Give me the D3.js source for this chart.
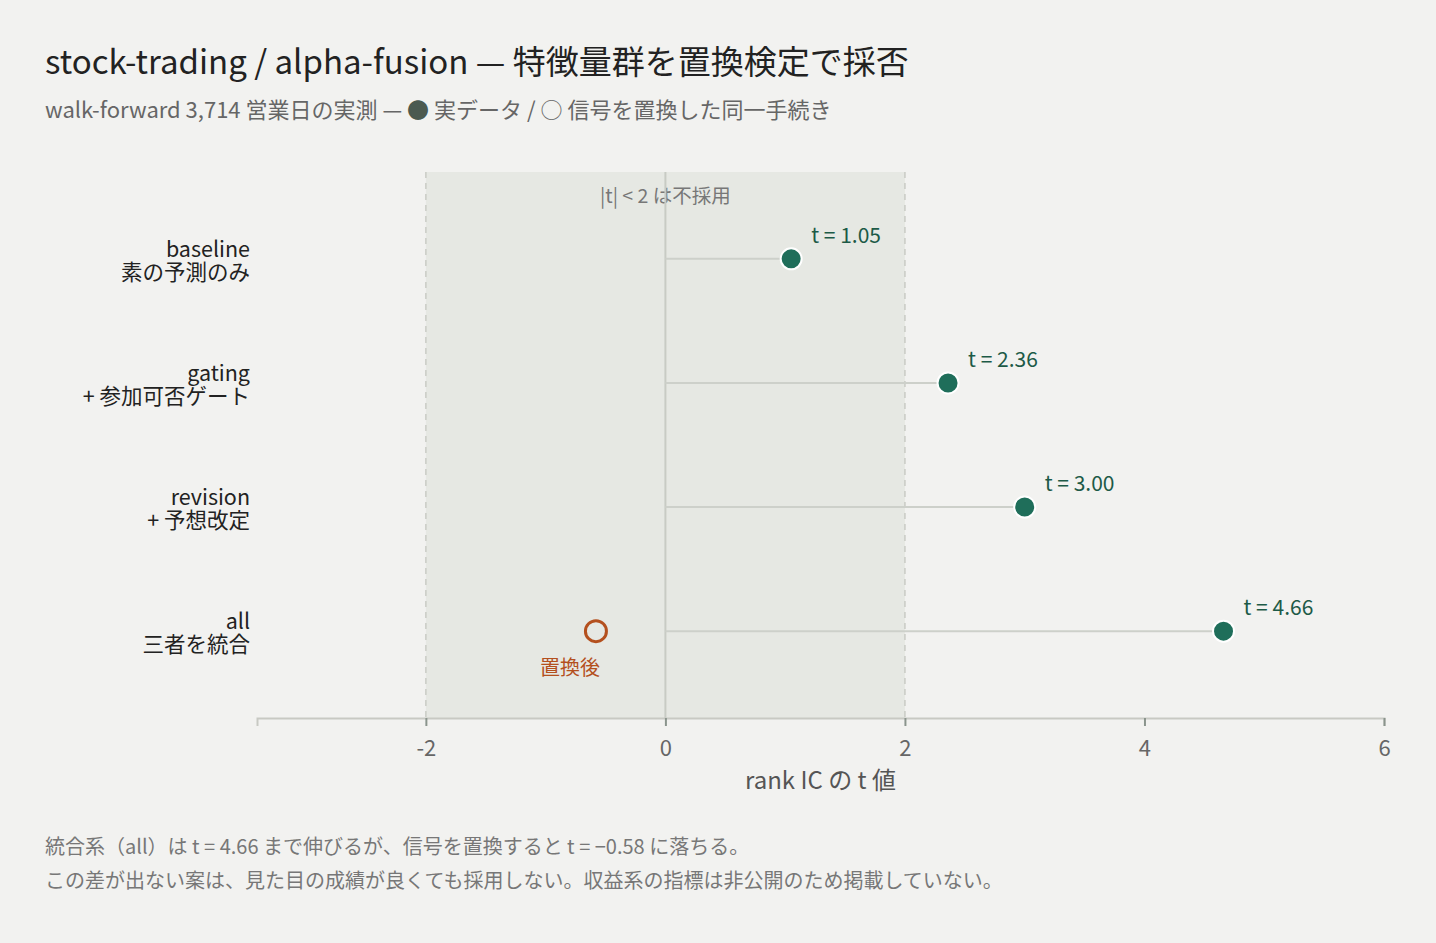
<!DOCTYPE html>
<html>
<head>
<meta charset="utf-8">
<script src="https://cdn.jsdelivr.net/npm/d3@7"></script>
<style>
  body { margin: 0; background: #f2f2f0; }
  svg { display: block; font-family: "Noto Sans CJK JP", "Noto Sans", sans-serif; }
</style>
</head>
<body>
<script>
// data
var models = ["baseline", "gating", "revision", "all"];
var modelNotes = ["素の予測のみ", "+ 参加可否ゲート", "+ 予想改定", "三者を統合"];
var tValues = [1.05, 2.36, 3.00, 4.66];
var permutedModel = "all";
var permutedT = -0.58;
var xTicks = [-2, 0, 2, 4, 6];

var W = 1436, H = 943;
var svg = d3.select("body").append("svg").attr("width", W).attr("height", H);

svg.append("rect").attr("width", W).attr("height", H).attr("fill", "#f2f2f0");

// title + subtitle
svg.append("text").attr("x", 45).attr("y", 74)
  .attr("font-size", 33).attr("fill", "#222")
  .text("stock-trading / alpha-fusion — 特徴量群を置換検定で採否");

var sub = svg.append("text").attr("x", 45).attr("y", 118)
  .attr("font-size", 22).attr("fill", "#666");
sub.append("tspan").text("walk-forward 3,714 営業日の実測 — ");
sub.append("tspan").attr("fill", "#4b5a50").text("●");
sub.append("tspan").text(" 実データ / ○ 信号を置換した同一手続き");

var x = d3.scaleLinear().domain([-3.41, 6]).range([257, 1384]);
var y = d3.scalePoint().domain(models).range([172, 718]).padding(0.7);

// non-adopt band |t| < 2
svg.append("rect")
  .attr("x", x(-2)).attr("y", 172)
  .attr("width", x(2) - x(-2)).attr("height", 718 - 172)
  .attr("fill", "#e6e8e3");
[-2, 2].forEach(function (v) {
  svg.append("line")
    .attr("x1", x(v)).attr("x2", x(v)).attr("y1", 172).attr("y2", 718)
    .attr("stroke", "#c9cbc5").attr("stroke-width", 1.5)
    .attr("stroke-dasharray", "6,5");
});
svg.append("text").attr("x", x(0)).attr("y", 203)
  .attr("text-anchor", "middle").attr("font-size", 19.5).attr("fill", "#777")
  .text("|t| < 2 は不採用");

// zero line
svg.append("line")
  .attr("x1", x(0)).attr("x2", x(0)).attr("y1", 172).attr("y2", 718)
  .attr("stroke", "#c8cbc4").attr("stroke-width", 2);

// x axis
var axis = svg.append("g").attr("transform", "translate(0,718)")
  .call(d3.axisBottom(x).tickValues(xTicks).tickSize(8).tickPadding(14)
    .tickFormat(function (d) { return String(d); }));
axis.select(".domain").attr("stroke", "#c8c9c3").attr("stroke-width", 2);
axis.selectAll(".tick line").attr("stroke", "#8a948c").attr("stroke-width", 2)
  .attr("y1", 0).attr("y2", 8);
axis.selectAll(".tick text").attr("font-size", 22).attr("fill", "#666")
  .attr("font-family", "'Noto Sans CJK JP', sans-serif");
svg.append("text").attr("x", (257 + 1384) / 2).attr("y", 789)
  .attr("text-anchor", "middle").attr("font-size", 24).attr("fill", "#555")
  .text("rank IC の t 値");

// category labels
models.forEach(function (m, i) {
  var t = svg.append("text").attr("text-anchor", "end").attr("font-size", 21.5).attr("fill", "#222");
  t.append("tspan").attr("x", 250).attr("y", y(m) - 2).text(m);
  t.append("tspan").attr("x", 250).attr("y", y(m) + 21).text(modelNotes[i]);
});

// stems
svg.selectAll(".stem").data(models).enter().append("line")
  .attr("x1", x(0)).attr("x2", function (d, i) { return x(tValues[i]); })
  .attr("y1", function (d) { return y(d); }).attr("y2", function (d) { return y(d); })
  .attr("stroke", "#cdd0ca").attr("stroke-width", 2);

// dots
svg.selectAll(".dot").data(models).enter().append("circle")
  .attr("cx", function (d, i) { return x(tValues[i]); })
  .attr("cy", function (d) { return y(d); })
  .attr("r", 10.5)
  .attr("fill", "#1f6e5a").attr("stroke", "#fff").attr("stroke-width", 2);

svg.selectAll(".tlab").data(models).enter().append("text")
  .attr("x", function (d, i) { return x(tValues[i]) + 20; })
  .attr("y", function (d) { return y(d) - 16; })
  .attr("font-size", 21).attr("fill", "#1d5a47")
  .text(function (d, i) { return "t = " + tValues[i].toFixed(2); });

// permuted point
svg.append("circle")
  .attr("cx", x(permutedT)).attr("cy", y(permutedModel)).attr("r", 10.5)
  .attr("fill", "none").attr("stroke", "#b4501e").attr("stroke-width", 3);
svg.append("text")
  .attr("x", x(permutedT) + 4).attr("y", y(permutedModel) + 44)
  .attr("text-anchor", "end").attr("font-size", 20).attr("fill", "#b4501e")
  .text("置換後");

// footnote
svg.append("text").attr("x", 45).attr("y", 854).attr("font-size", 20).attr("fill", "#777")
  .text("統合系（all）は t = 4.66 まで伸びるが、信号を置換すると t = −0.58 に落ちる。");
svg.append("text").attr("x", 45).attr("y", 888).attr("font-size", 20).attr("fill", "#777")
  .text("この差が出ない案は、見た目の成績が良くても採用しない。収益系の指標は非公開のため掲載していない。");
</script>
</body>
</html>
